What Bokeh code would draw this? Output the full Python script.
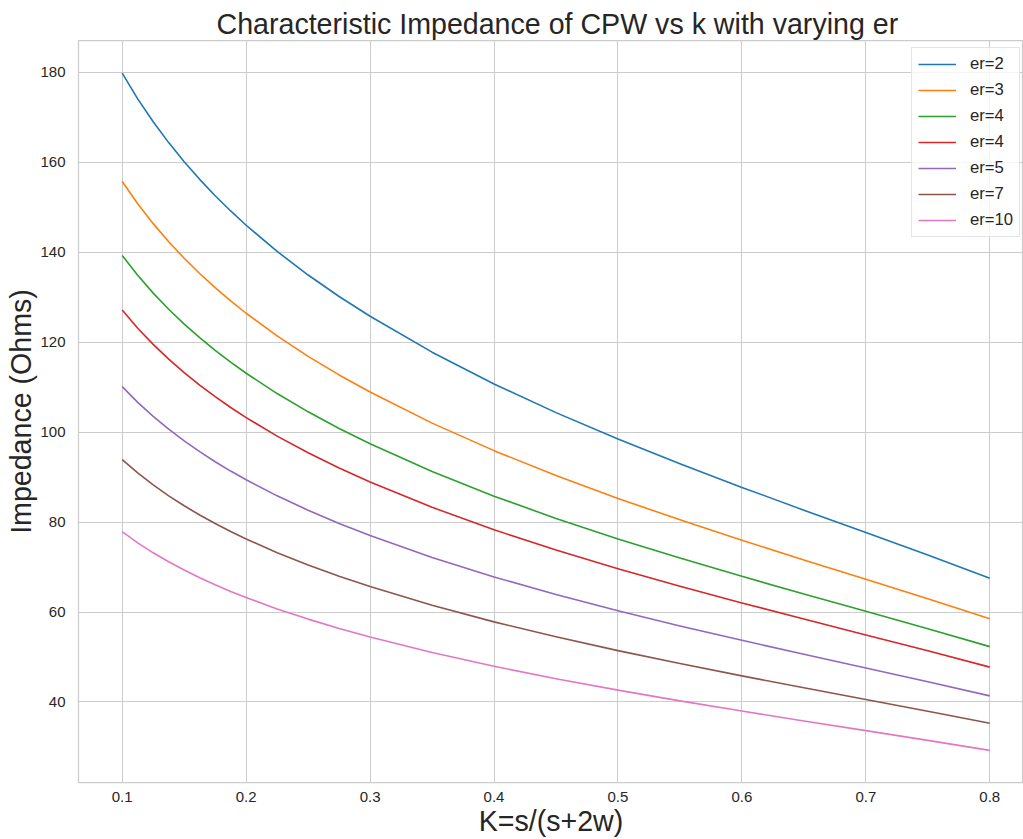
from bokeh.plotting import figure
from bokeh.models import FixedTicker, Legend, LegendItem, Range1d
from bokeh.embed import file_html
from bokeh.resources import INLINE

# K = s/(s+2w)
k_values = [0.1, 0.1125, 0.125, 0.1375, 0.15, 0.1625, 0.175, 0.1875, 0.2, 0.225, 0.25,
            0.275, 0.3, 0.35, 0.4, 0.45, 0.5, 0.55, 0.6, 0.65, 0.7, 0.75, 0.8]

z_er2 = [179.78, 174.07, 168.97, 164.34, 160.09, 156.18, 152.54, 149.15, 145.97, 140.15,
         134.91, 130.14, 125.75, 117.76, 110.70, 104.32, 98.44, 92.94, 87.70, 82.64,
         77.66, 72.66, 67.52]
z_er3 = [155.70, 150.75, 146.33, 142.32, 138.64, 135.25, 132.10, 129.17, 126.41, 121.37,
         116.83, 112.70, 108.91, 101.99, 95.87, 90.34, 85.25, 80.49, 75.95, 71.57,
         67.26, 62.93, 58.48]
z_er4 = [139.26, 134.84, 130.88, 127.30, 124.01, 120.97, 118.16, 115.53, 113.07, 108.56,
         104.50, 100.80, 97.41, 91.22, 85.75, 80.81, 76.25, 71.99, 67.93, 64.01,
         60.16, 56.28, 52.30]
z_er4b = [127.13, 123.09, 119.48, 116.21, 113.20, 110.43, 107.86, 105.46, 103.22, 99.10,
          95.39, 92.02, 88.92, 83.27, 78.28, 73.77, 69.61, 65.72, 62.02, 58.44,
          54.91, 51.38, 47.75]
z_er5 = [110.09, 106.60, 103.47, 100.64, 98.04, 95.64, 93.41, 91.33, 89.39, 85.82,
         82.61, 79.69, 77.01, 72.12, 67.79, 63.88, 60.28, 56.91, 53.71, 50.61,
         47.56, 44.50, 41.35]
z_er7 = [93.89, 90.91, 88.24, 85.82, 83.61, 81.56, 79.66, 77.89, 76.23, 73.19,
         70.45, 67.96, 65.67, 61.50, 57.81, 54.48, 51.41, 48.54, 45.80, 43.16,
         40.56, 37.95, 35.26]
z_er10 = [77.85, 75.38, 73.16, 71.16, 69.32, 67.63, 66.05, 64.58, 63.21, 60.69,
          58.42, 56.35, 54.45, 50.99, 47.94, 45.17, 42.63, 40.24, 37.98, 35.78,
          33.63, 31.46, 29.24]

series = [z_er2, z_er3, z_er4, z_er4b, z_er5, z_er7, z_er10]
labels = ["er=2", "er=3", "er=4", "er=4", "er=5", "er=7", "er=10"]
colors = ["#1f77b4", "#ff7f0e", "#2ca02c", "#d62728", "#9467bd", "#8c564b", "#e377c2"]

x_ticks = [0.1, 0.2, 0.3, 0.4, 0.5, 0.6, 0.7, 0.8]
y_ticks = [40, 60, 80, 100, 120, 140, 160, 180]

FONT = "Liberation Sans"
TXT = "#262626"

p = figure(width=1023, height=839, output_backend="svg", toolbar_location=None,
           x_range=Range1d(0.06473, 0.8272), y_range=Range1d(22.1, 187.04),
           min_border_left=78, min_border_right=0, min_border_top=40, min_border_bottom=54)

p.title.text = "Characteristic Impedance of CPW vs k with varying er"
p.title.text_font = FONT
p.title.text_font_size = "28.6px"
p.title.text_font_style = "normal"
p.title.text_color = TXT
p.title.align = "left"
p.title.vertical_align = "middle"
p.title.offset = 138
p.title.standoff = 0

renderers = []
for ys, c in zip(series, colors):
    r = p.line(k_values, ys, line_color=c, line_width=1.6, line_join="round")
    renderers.append(r)

legend = Legend(items=[LegendItem(label=l, renderers=[r]) for l, r in zip(labels, renderers)],
                location=(833, 545))
legend.label_text_font = FONT
legend.label_text_font_size = "16.7px"
legend.label_text_color = TXT
legend.glyph_width = 38
legend.glyph_height = 20
legend.label_height = 20
legend.label_standoff = 14
legend.spacing = 6
legend.padding = 6
legend.margin = 0
legend.border_line_color = "#cccccc"
legend.border_line_width = 1
legend.background_fill_color = "white"
legend.background_fill_alpha = 0.8
p.add_layout(legend)

p.xaxis.ticker = FixedTicker(ticks=x_ticks)
p.yaxis.ticker = FixedTicker(ticks=y_ticks)
p.xaxis.axis_label = "K=s/(s+2w)"
p.yaxis.axis_label = "Impedance (Ohms)"
for ax in (p.xaxis, p.yaxis):
    ax.axis_label_text_font = FONT
    ax.axis_label_text_font_size = "28.6px"
    ax.axis_label_text_font_style = "normal"
    ax.axis_label_text_color = TXT
    ax.major_label_text_font = FONT
    ax.major_label_text_font_size = "15px"
    ax.major_label_text_color = TXT
    ax.axis_line_color = None
    ax.major_tick_line_color = None
    ax.minor_tick_line_color = None
p.xaxis.major_label_standoff = 3
p.xaxis.axis_label_standoff = 0
p.yaxis.major_label_standoff = 7
p.yaxis.axis_label_standoff = 0

p.xgrid.grid_line_color = "#cccccc"
p.ygrid.grid_line_color = "#cccccc"
p.xgrid.grid_line_width = 1
p.ygrid.grid_line_width = 1
p.outline_line_color = "#cccccc"
p.outline_line_width = 1.25
p.background_fill_color = "white"
p.border_fill_color = "white"

open("out.html", "w").write(file_html(p, INLINE))
